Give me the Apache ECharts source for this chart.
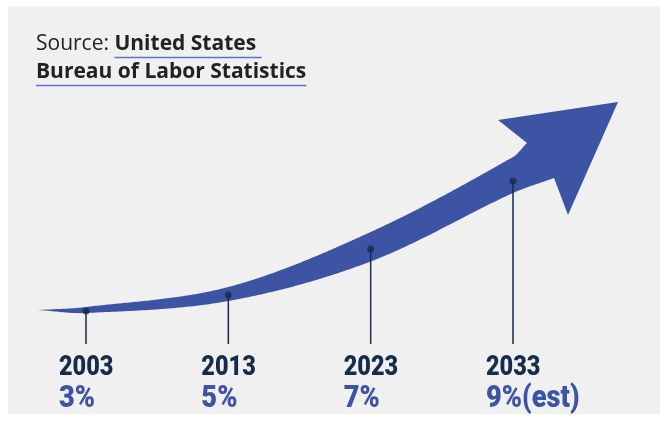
<!DOCTYPE html>
<html><head><meta charset="utf-8">
<script src="https://cdn.jsdelivr.net/npm/echarts@6/dist/echarts.min.js"></script>
<style>html,body{margin:0;padding:0;background:#fff}#c{width:660px;height:426px}</style>
</head><body><div id="c"></div>
<script>
// ---- data ----
const years = [2003, 2013, 2023, 2033];
const rateLabels = ['3%', '5%', '7%', '9%(est)'];
const arrowLevel = [33, 49, 95, 163];   // height of the growth arrow above the stem baseline
const sourcePrefix = 'Source: ';
const sourceLine1 = 'United States ';
const sourceLine2 = 'Bureau of Labor Statistics';

// ---- styles ----
const C = { bg: '#f0f0f0', arrow: '#3d54a5', navy: '#172b4d', rate: '#3d54a5', text: '#222222', underline: '#5b72cc' };
const shape = {            // arrow outline offsets in px relative to the marker points
  tail: [-48, -1],
  upper: [-4, -8, -17, -24],
  lower: [2, 6, 12.5, 12],
  upperNotch: [14, -38],
  upperBarb: [-15, -61],
  tip: [105, -79],
  lowerBarb: [55, 34],
  lowerNotch: [41, -3]
};

function hermite(knots) {
  const n = knots.length, x = knots.map(k => k[0]), y = knots.map(k => k[1]);
  const h = [], d = [], m = [];
  for (let i = 0; i < n - 1; i++) { h[i] = x[i + 1] - x[i]; d[i] = (y[i + 1] - y[i]) / h[i]; }
  m[0] = d[0]; m[n - 1] = d[n - 2];
  for (let i = 1; i < n - 1; i++) m[i] = (y[i + 1] - y[i - 1]) / (x[i + 1] - x[i - 1]);
  const out = [];
  for (let i = 0; i < n - 1; i++) {
    const steps = Math.max(2, Math.ceil(h[i] / 2));
    for (let s = 0; s < steps; s++) {
      const t = s / steps, t2 = t * t, t3 = t2 * t;
      const yy = (2 * t3 - 3 * t2 + 1) * y[i] + (t3 - 2 * t2 + t) * h[i] * m[i] + (-2 * t3 + 3 * t2) * y[i + 1] + (t3 - t2) * h[i] * m[i + 1];
      out.push([x[i] + t * h[i], yy]);
    }
  }
  out.push([x[n - 1], y[n - 1]]);
  return out;
}

function measure(font, text) {
  const ctx = document.createElement('canvas').getContext('2d');
  ctx.font = font;
  return ctx.measureText(text).width;
}

const titleFont = "21px 'Open Sans'";
const titleBold = "bold 21px 'Open Sans'";
const tx = 36;
const wPrefix = measure(titleFont, sourcePrefix);
const wL1 = measure(titleBold, sourceLine1);
const wL2 = measure(titleBold, sourceLine2);

const chart = echarts.init(document.getElementById('c'));
chart.setOption({
  backgroundColor: '#ffffff',
  animation: false,
  grid: { left: 29.07, right: 33.13, top: 100, bottom: 82 },
  xAxis: { type: 'value', min: 1999, max: 2041, show: false },
  yAxis: { type: 'value', min: 0, max: 244, show: false },
  graphic: [
    { type: 'rect', z: -10, shape: { x: 8, y: 6, width: 652, height: 408 }, style: { fill: C.bg } },
    { type: 'text', x: tx, y: 55, style: { text: sourcePrefix, font: titleFont, fill: C.text, verticalAlign: 'bottom' } },
    { type: 'text', x: tx + wPrefix, y: 55, style: { text: sourceLine1, font: titleBold, fill: C.text, verticalAlign: 'bottom' } },
    { type: 'text', x: tx, y: 83, style: { text: sourceLine2, font: titleBold, fill: C.text, verticalAlign: 'bottom' } },
    { type: 'line', shape: { x1: tx + wPrefix, y1: 57.5, x2: tx + wPrefix + wL1, y2: 57.5 }, style: { stroke: C.underline, lineWidth: 1.5 } },
    { type: 'line', shape: { x1: tx, y1: 85.5, x2: tx + wL2, y2: 85.5 }, style: { stroke: C.underline, lineWidth: 1.5 } }
  ],
  series: [
    {
      type: 'custom', coordinateSystem: 'cartesian2d', clip: false, silent: true, z: 1,
      data: [[years[0], arrowLevel[0]]],
      renderItem: function (params, api) {
        const P = years.map((yr, i) => api.coord([yr, arrowLevel[i]]));
        const last = P[P.length - 1];
        const off = (p, o) => [p[0] + o[0], p[1] + o[1]];
        const T = off(P[0], shape.tail);
        const UN = off(last, shape.upperNotch), LN = off(last, shape.lowerNotch);
        const up = hermite([T].concat(P.map((p, i) => [p[0], p[1] + shape.upper[i]]), [UN]));
        const lo = hermite([T].concat(P.map((p, i) => [p[0], p[1] + shape.lower[i]]), [LN]));
        const pts = up.concat([off(last, shape.upperBarb), off(last, shape.tip), off(last, shape.lowerBarb)], lo.reverse());
        return { type: 'polygon', shape: { points: pts }, style: { fill: C.arrow } };
      }
    },
    {
      type: 'custom', coordinateSystem: 'cartesian2d', clip: false, silent: true, z: 3,
      data: years.map((yr, i) => [yr, arrowLevel[i]]),
      renderItem: function (params, api) {
        const p = api.coord([api.value(0), api.value(1)]);
        const b = api.coord([api.value(0), 0]);
        return { type: 'line', shape: { x1: p[0], y1: p[1], x2: b[0], y2: b[1] }, style: { stroke: C.navy, lineWidth: 1.5 } };
      }
    },
    {
      type: 'scatter', z: 4, silent: true, symbol: 'circle', symbolSize: 7,
      itemStyle: { color: C.navy },
      data: years.map((yr, i) => [yr, arrowLevel[i]])
    },
    {
      type: 'custom', coordinateSystem: 'cartesian2d', clip: false, silent: true, z: 5,
      data: years.map((yr, i) => [yr, 0]),
      renderItem: function (params, api) {
        const b = api.coord([api.value(0), 0]);
        const i = params.dataIndex;
        return {
          type: 'group', children: [
            { type: 'text', x: b[0] - 27, y: b[1] + 24, scaleX: 0.87,
              style: { text: String(years[i]), font: "900 27px Roboto", fill: C.navy, align: 'left', verticalAlign: 'middle' } },
            { type: 'text', x: b[0] - 27, y: b[1] + 55, scaleX: 0.88,
              style: { text: rateLabels[i], font: "900 31px Roboto", fill: C.rate, align: 'left', verticalAlign: 'middle' } }
          ]
        };
      }
    }
  ]
});
</script>
</body></html>
